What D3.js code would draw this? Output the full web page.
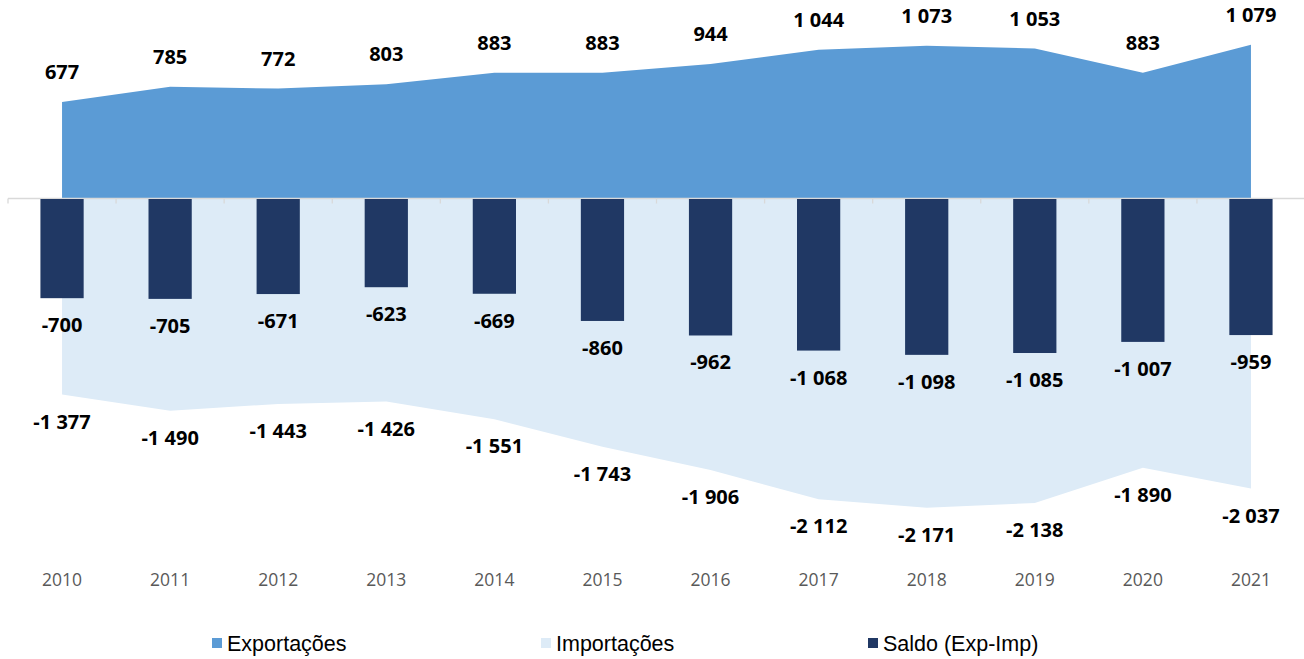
<!DOCTYPE html>
<html>
<head>
<meta charset="utf-8">
<script src="https://cdn.jsdelivr.net/npm/d3@7"></script>
<style>
    body { margin: 0; background: #fff; }
    svg { display: block; }
</style>
</head>
<body>
<div id="chart"></div>
<script>
const years = ["2010", "2011", "2012", "2013", "2014", "2015", "2016", "2017", "2018", "2019", "2020", "2021"];
const exportacoes = [677, 785, 772, 803, 883, 883, 944, 1044, 1073, 1053, 883, 1079];
const importacoes = [-1377, -1490, -1443, -1426, -1551, -1743, -1906, -2112, -2171, -2138, -1890, -2037];
const saldo = [-700, -705, -671, -623, -669, -860, -962, -1068, -1098, -1085, -1007, -959];
const legendLabels = ["Exportações", "Importações", "Saldo (Exp-Imp)"];

const width = 1304;
const height = 659;
const colors = { exp: "#5B9BD5", imp: "#DDEBF7", saldo: "#203864" };

// numbers like "1 044" with a space as thousands separator
const fmt = v => {
    const s = Math.abs(v).toString().replace(/\B(?=(\d{3})+(?!\d))/g, " ");
    return (v < 0 ? "-" : "") + s;
};

const svg = d3.select("#chart").append("svg")
    .attr("width", width)
    .attr("height", height);

const x = d3.scaleBand()
    .domain(years)
    .range([8, 1305])
    .padding(0);

const y = d3.scaleLinear()
    .domain([-2500, 1250])
    .range([554.5, 20.5]);

const cx = d => x(d) + x.bandwidth() / 2;
const rows = years.map((yr, i) => ({ yr, exp: exportacoes[i], imp: importacoes[i], saldo: saldo[i] }));

// import area (below zero)
svg.append("path")
    .datum(rows)
    .attr("fill", colors.imp)
    .attr("d", d3.area().x(d => cx(d.yr)).y0(y(0)).y1(d => y(d.imp)));

// export area (above zero)
svg.append("path")
    .datum(rows)
    .attr("fill", colors.exp)
    .attr("d", d3.area().x(d => cx(d.yr)).y0(y(0)).y1(d => y(d.exp)));

// horizontal axis line with ticks between categories
const axisG = svg.append("g");
axisG.append("line")
    .attr("x1", 8).attr("x2", width)
    .attr("y1", y(0)).attr("y2", y(0))
    .attr("stroke", "#D9D9D9").attr("stroke-width", 1.3);
axisG.selectAll(".tk")
    .data(years.concat(["end"]))
    .enter().append("line")
    .attr("x1", d => d === "end" ? x.range()[1] : x(d))
    .attr("x2", d => d === "end" ? x.range()[1] : x(d))
    .attr("y1", y(0)).attr("y2", y(0) + 5)
    .attr("stroke", "#D9D9D9").attr("stroke-width", 1.3);

// saldo bars
const barW = x.bandwidth() * 0.4;
svg.append("g")
    .selectAll("rect")
    .data(rows)
    .enter().append("rect")
    .attr("x", d => cx(d.yr) - barW / 2)
    .attr("y", y(0) + 0.5)
    .attr("width", barW)
    .attr("height", d => y(d.saldo) - y(0) - 0.5)
    .attr("fill", colors.saldo);

// data labels
const labelFont = "'Open Sans', 'DejaVu Sans', sans-serif";
function addLabels(key, dy) {
    svg.append("g")
        .selectAll("text")
        .data(rows)
        .enter().append("text")
        .attr("x", d => cx(d.yr))
        .attr("y", d => y(d[key]) + dy)
        .attr("dy", "0.35em")
        .attr("text-anchor", "middle")
        .style("font-family", labelFont)
        .style("font-weight", "bold")
        .style("font-size", "20px")
        .style("fill", "#000")
        .text(d => fmt(d[key]));
}
addLabels("exp", -30);
addLabels("saldo", 27);
addLabels("imp", 27);

// year labels
svg.append("g")
    .attr("transform", "translate(0,571)")
    .call(d3.axisBottom(x).tickSize(0))
    .call(g => g.select(".domain").remove())
    .selectAll("text")
    .style("font-family", labelFont)
    .style("font-size", "17.5px")
    .style("fill", "#595959");

// legend
const legendX = [212, 541, 868];
const legendColors = [colors.exp, colors.imp, colors.saldo];
const legend = svg.append("g")
    .selectAll("g")
    .data(legendLabels)
    .enter().append("g")
    .attr("transform", (d, i) => `translate(${legendX[i]},638)`);
legend.append("rect")
    .attr("width", 10).attr("height", 10)
    .attr("fill", (d, i) => legendColors[i]);
legend.append("text")
    .attr("x", 15).attr("y", 5)
    .attr("dy", "0.36em")
    .style("font-family", "'Liberation Sans', Arial, sans-serif")
    .style("font-size", "21.5px")
    .style("fill", "#000")
    .text(d => d);
</script>
</body>
</html>
